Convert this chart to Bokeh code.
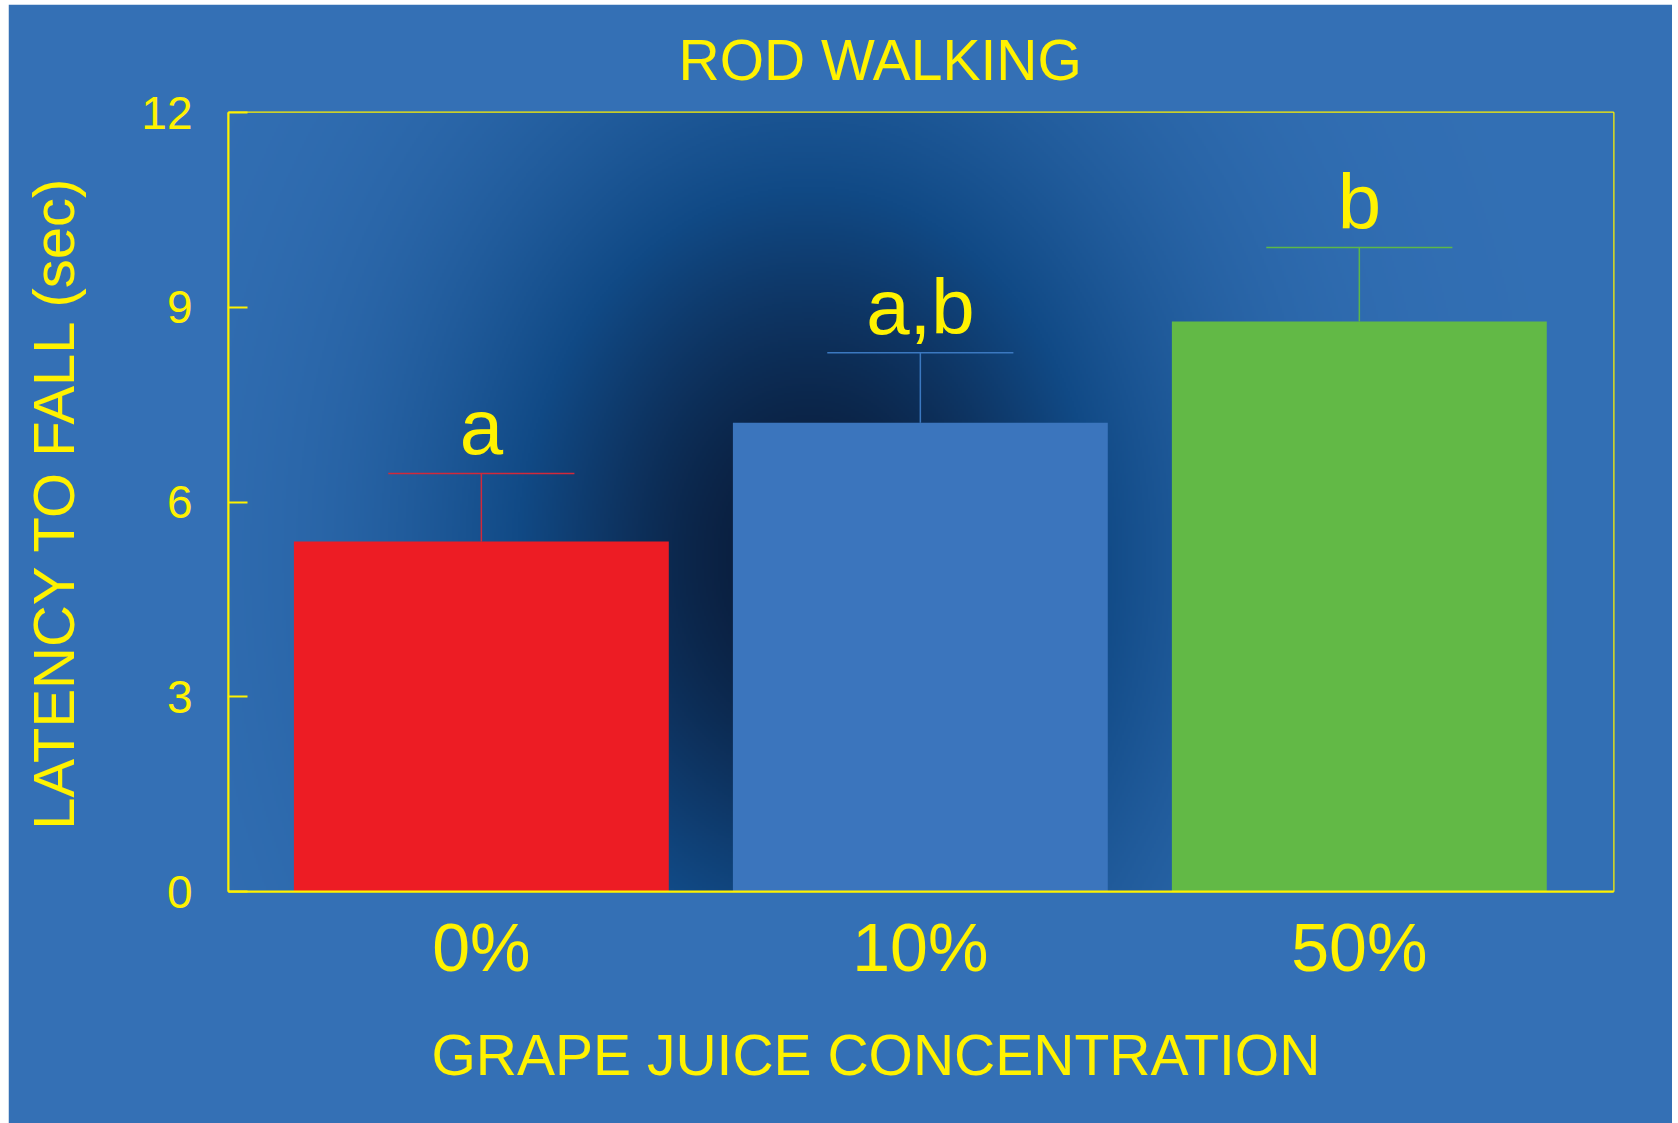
import numpy as np
from bokeh.plotting import figure
from bokeh.models import Range1d, FixedTicker, Title, ColumnDataSource
from bokeh.core.properties import value
from bokeh.embed import file_html
from bokeh.resources import INLINE

# ---- data ----
categories = ["0%", "10%", "50%"]
means = [5.39, 7.22, 8.78]
err_upper = [6.44, 8.30, 9.92]
letters = ["a", "a,b", "b"]
y_ticks = [0, 3, 6, 9, 12]

# ---- styles ----
bar_colors = ["#ed1c24", "#3b75bd", "#62b946"]
err_colors = ["#d3293a", "#3b78c0", "#5db848"]
YEL = "#fff200"
FONT = "Liberation Sans"
BAR_W = 0.854
CAP_HALF = 0.212

xs = list(range(len(categories)))
x_start, x_end = -0.576, 2.579
y_start, y_end = 0, 12

p = figure(width=1664, height=1119, output_backend="svg", toolbar_location=None,
           x_range=Range1d(x_start, x_end), y_range=Range1d(y_start, y_end),
           min_border_left=220, min_border_right=59, min_border_top=105,
           min_border_bottom=229)
p.margin = (4, 0, 0, 8)
p.border_fill_color = "#3470b5"
p.background_fill_color = "#3470b5"
p.outline_line_color = YEL
p.outline_line_width = 2
p.xgrid.visible = False
p.ygrid.visible = False

# background radial gradient inside the frame (style only)
nx, ny = 693, 393
fw, fh = 1385.0, 785.0
jj = (np.arange(nx) + 0.5) * fw / nx
ii = fh - (np.arange(ny) + 0.5) * fh / ny  # row 0 = bottom
PX, PY = np.meshgrid(jj, ii)
cx, cy, rx, ry = 580.0, 450.0, 350.0, 450.0
d2 = ((PX - cx) / rx) ** 2 + ((PY - cy) / ry) ** 2
f = np.exp(-d2)
stops_f = np.array([0.0, 0.5, 1.0])
stops_c = np.array([[51, 112, 181], [17, 74, 134], [10, 28, 58]], dtype=float)
rgba = np.zeros((ny, nx, 4), dtype=np.uint8)
for k in range(3):
    rgba[:, :, k] = np.interp(f, stops_f, stops_c[:, k]).astype(np.uint8)
rgba[:, :, 3] = 255
img = rgba.view(dtype=np.uint32).reshape((ny, nx))
p.image_rgba(image=[img], x=x_start, y=y_start, dw=x_end - x_start, dh=y_end - y_start)

src = ColumnDataSource(dict(
    x=xs, top=means, up=err_upper, letter=letters,
    bar_color=bar_colors, err_color=err_colors,
    cap0=[x - CAP_HALF for x in xs], cap1=[x + CAP_HALF for x in xs],
))

p.vbar(x="x", top="top", bottom=0, width=BAR_W, fill_color="bar_color",
       line_color=None, source=src)
p.segment(x0="x", y0="top", x1="x", y1="up", line_color="err_color",
          line_width=1.5, source=src)
p.segment(x0="cap0", y0="up", x1="cap1", y1="up", line_color="err_color",
          line_width=1.5, source=src)
p.text(x="x", y="up", text="letter", source=src, text_font=value(FONT),
       text_font_size="78px", text_color=YEL, text_align="center",
       text_baseline="alphabetic", y_offset=-46)

# title
p.title.text = "ROD WALKING"
p.title.align = "left"
p.title.offset = 450
p.title.text_font = FONT
p.title.text_font_size = "57px"
p.title.text_font_style = "normal"
p.title.text_color = YEL
p.title.standoff = 42

# x axis
p.xaxis.ticker = FixedTicker(ticks=xs)
p.xaxis.major_label_overrides = {x: c for x, c in zip(xs, categories)}
p.xaxis.major_tick_line_color = None
p.xaxis.minor_tick_line_color = None
p.xaxis.axis_line_color = YEL
p.xaxis.axis_line_width = 2
p.xaxis.major_label_text_font = FONT
p.xaxis.major_label_text_font_size = "68px"
p.xaxis.major_label_text_color = YEL
p.xaxis.major_label_standoff = 11

xt = Title(text="GRAPE JUICE CONCENTRATION", align="left", offset=203,
           vertical_align="top", standoff=70, text_font=FONT,
           text_font_size="57px", text_font_style="normal", text_color=YEL)
p.add_layout(xt, "below")

# y axis
p.yaxis.ticker = FixedTicker(ticks=y_ticks)
p.yaxis.minor_tick_line_color = None
p.yaxis.axis_line_color = YEL
p.yaxis.axis_line_width = 2
p.yaxis.major_tick_line_color = YEL
p.yaxis.major_tick_line_width = 2
p.yaxis.major_tick_in = 19
p.yaxis.major_tick_out = 0
p.yaxis.major_label_text_font = FONT
p.yaxis.major_label_text_font_size = "46px"
p.yaxis.major_label_text_color = YEL
p.yaxis.major_label_standoff = 36
p.yaxis.axis_label = "LATENCY TO FALL (sec)"
p.yaxis.axis_label_text_font = FONT
p.yaxis.axis_label_text_font_size = "58px"
p.yaxis.axis_label_text_font_style = "normal"
p.yaxis.axis_label_text_color = YEL
p.yaxis.axis_label_standoff = 52

open("out.html", "w").write(file_html(p, INLINE))
